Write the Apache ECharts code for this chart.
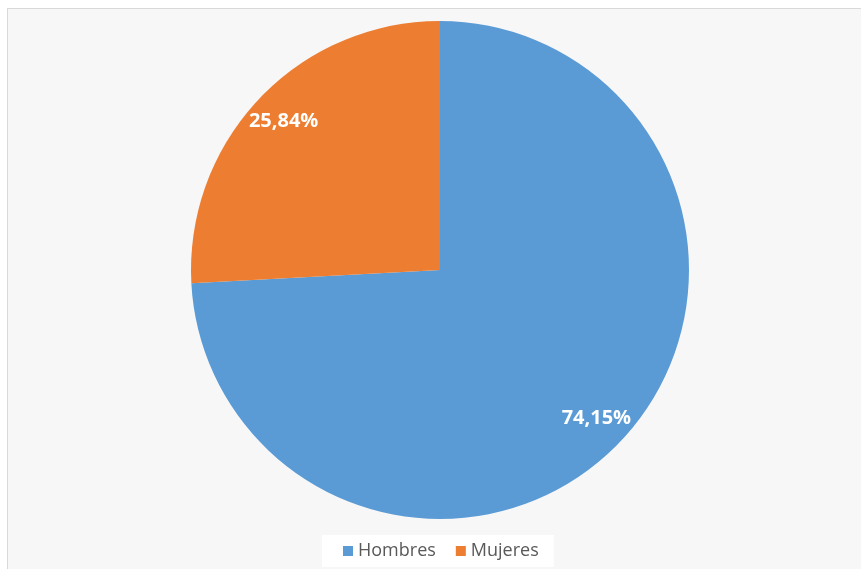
<!DOCTYPE html>
<html>
<head>
<meta charset="utf-8">
<script src="https://cdn.jsdelivr.net/npm/echarts@6/dist/echarts.min.js"></script>
<style>
  html, body { margin: 0; padding: 0; background: #ffffff; overflow: hidden; }
  #frame {
    position: absolute; left: 7px; top: 8px; width: 860px; height: 570px;
    border-left: 1px solid #d9d9d9; border-top: 1px solid #d9d9d9;
    background: #f7f7f7;
  }
  #chart { position: absolute; left: -8px; top: -9px; width: 861px; height: 569px; }
</style>
</head>
<body>
<div id="frame"><div id="chart"></div></div>
<script>
// Distribución por sexo
const categories = ['Hombres', 'Mujeres'];
const values = [74.15, 25.84];
const colors = ['#5B9BD5', '#ED7D31'];

const data = categories.map((name, i) => ({ name, value: values[i], itemStyle: { color: colors[i] } }));
const fmt = p => p.value.toFixed(2).replace('.', ',') + '%';

const chart = echarts.init(document.getElementById('chart'));
chart.setOption({
  animation: false,
  backgroundColor: 'transparent',
  legend: {
    bottom: 2,
    left: 322,
    data: categories,
    itemWidth: 10,
    itemHeight: 10,
    itemGap: 20,
    icon: 'rect',
    padding: [7, 15, 7, 21],
    backgroundColor: '#ffffff',
    textStyle: { color: '#595959', fontSize: 18, fontFamily: 'Open Sans, sans-serif' }
  },
  series: [
    {
      type: 'pie',
      center: [440, 270],
      radius: [0, 249],
      startAngle: 90,
      clockwise: true,
      silent: true,
      itemStyle: { borderWidth: 0 },
      label: { show: false },
      labelLine: { show: false },
      data: data
    },
    {
      // transparent ring carrying the percentage labels near the rim
      type: 'pie',
      center: [440, 270],
      radius: [176, 249],
      startAngle: 90,
      clockwise: true,
      silent: true,
      itemStyle: { color: 'transparent', borderWidth: 0 },
      label: {
        show: true,
        position: 'inside',
        formatter: fmt,
        color: '#ffffff',
        fontSize: 20,
        fontWeight: 'bold',
        fontFamily: 'Open Sans, sans-serif'
      },
      labelLine: { show: false },
      data: categories.map((name, i) => ({ name, value: values[i], itemStyle: { color: 'transparent' } }))
    }
  ]
});
</script>
</body>
</html>
